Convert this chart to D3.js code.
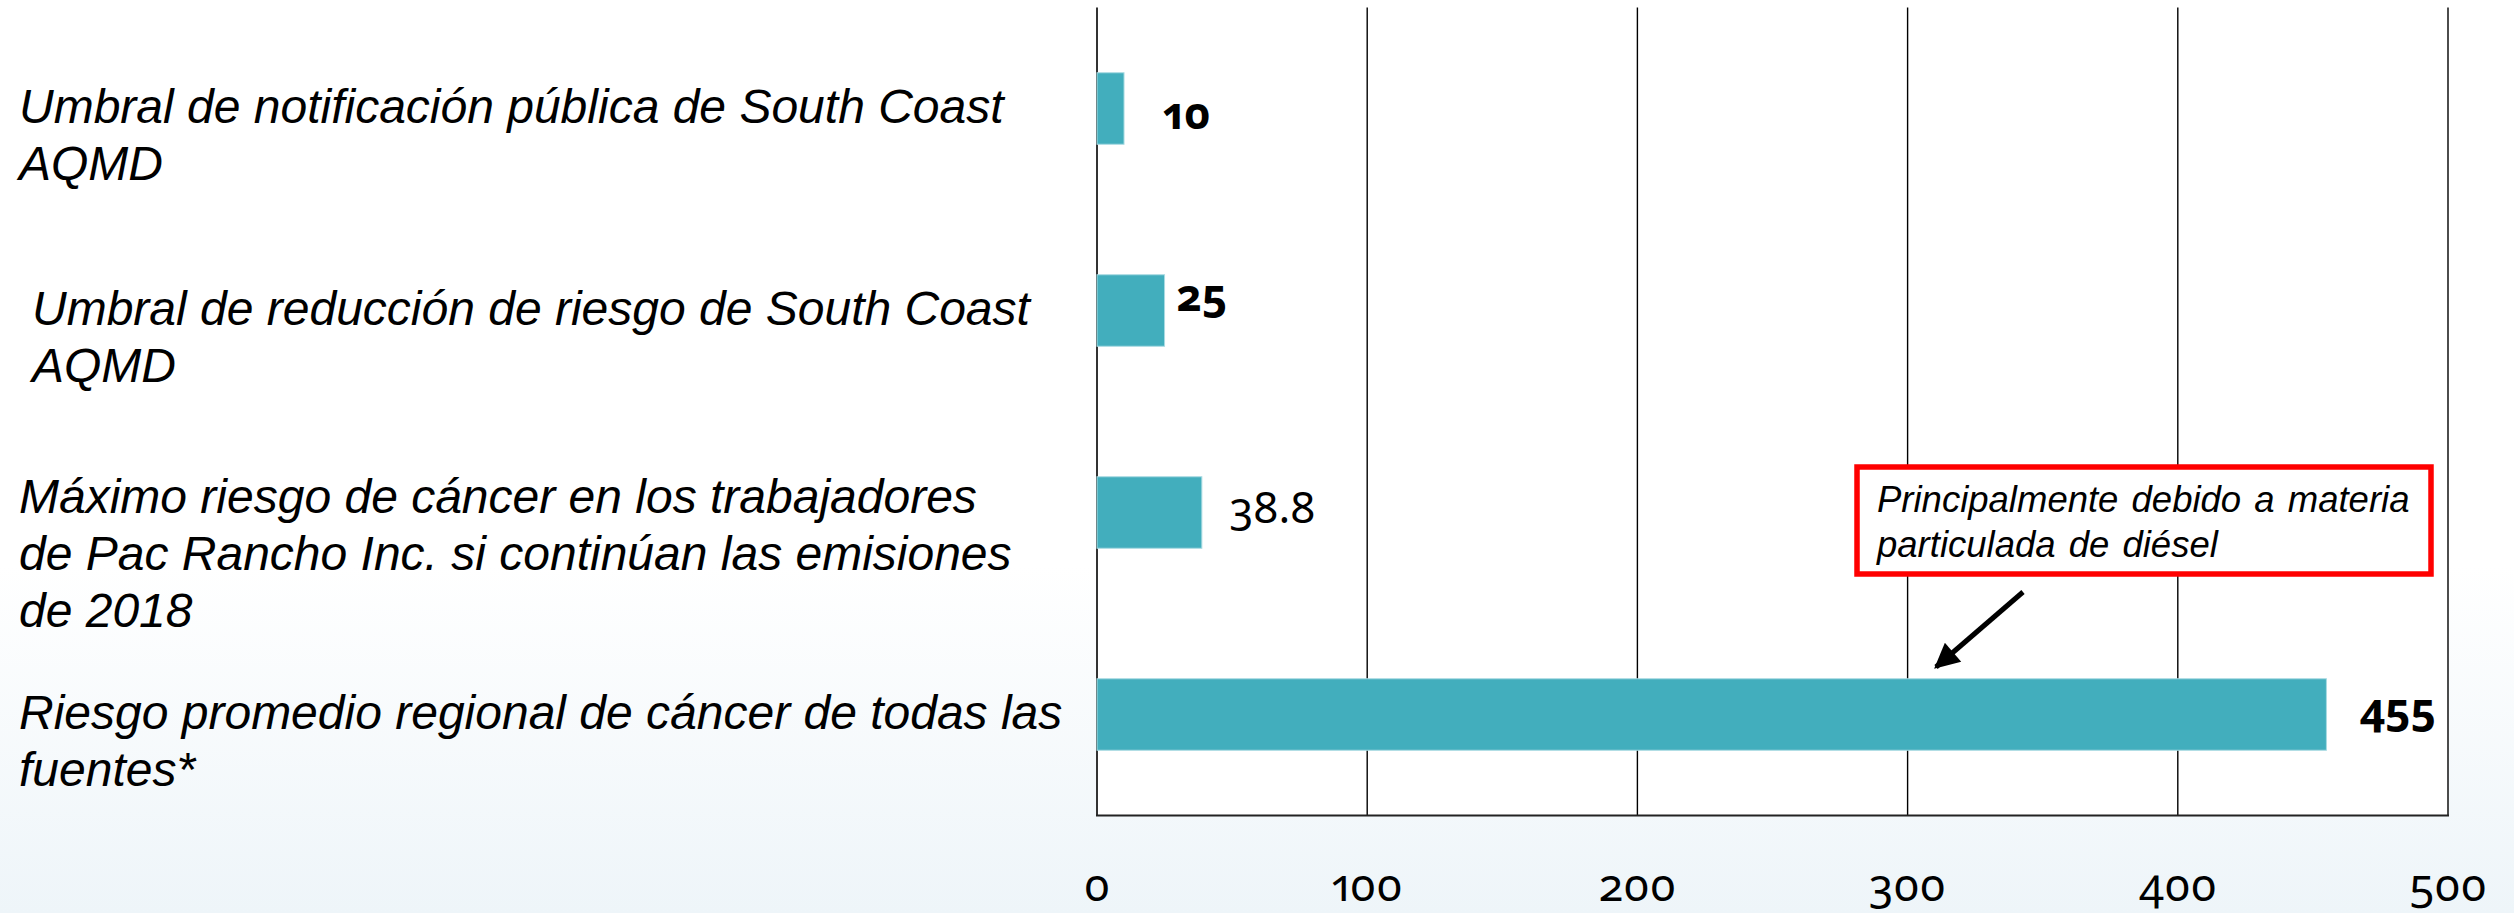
<!DOCTYPE html>
<html>
<head>
<meta charset="utf-8">
<script src="https://cdn.jsdelivr.net/npm/d3@7"></script>
<style>
  body { margin: 0; background: #fff; }
  svg { display: block; }
  .cat { font-family: "Liberation Sans", Arial, sans-serif; font-style: italic; font-size: 48px; fill: #000; }
  .num { font-family: "Noto Sans", "Open Sans", sans-serif; font-variant-numeric: oldstyle-nums; font-feature-settings: "onum" 1, "pnum" 1; fill: #000; }
  .note { font-family: "Liberation Sans", Arial, sans-serif; font-style: italic; font-size: 36.5px; word-spacing: 3px; fill: #000; }
</style>
</head>
<body>
<svg id="chart"></svg>
<script>
var width = 2514, height = 913;

// category labels, already broken into lines like in the slide
var categories = [
  ["Umbral de notificación pública de South Coast", "AQMD"],
  ["Umbral de reducción de riesgo de South Coast", "AQMD"],
  ["Máximo riesgo de cáncer en los trabajadores", "de Pac Rancho Inc. si continúan las emisiones", "de 2018"],
  ["Riesgo promedio regional de cáncer de todas las", "fuentes*"]
];
var values = [10, 25, 38.8, 455];
var valueLabels = ["10", "25", "38.8", "455"];
var xTicks = [0, 100, 200, 300, 400, 500];
var noteLines = ["Principalmente debido a materia", "particulada de diésel"];

// the slide's labels were placed by hand, so each one gets its own nudge
var boldLabel = [true, true, false, true];
var labelDx = [39, 12, 28, 33];
var labelDy = [20, 0, 10, 10];

var svg = d3.select("#chart")
  .attr("width", width)
  .attr("height", height);

// slide background: white fading to a pale blue at the bottom
var defs = svg.append("defs");
var grad = defs.append("linearGradient")
  .attr("id", "bg").attr("x1", 0).attr("y1", 0).attr("x2", 0).attr("y2", 1);
grad.append("stop").attr("offset", "0%").attr("stop-color", "#ffffff");
grad.append("stop").attr("offset", "62%").attr("stop-color", "#ffffff");
grad.append("stop").attr("offset", "100%").attr("stop-color", "#eef5f9");

defs.append("marker")
  .attr("id", "arrow")
  .attr("viewBox", "0 0 10 10")
  .attr("refX", 9).attr("refY", 5)
  .attr("markerWidth", 5.5).attr("markerHeight", 5)
  .attr("orient", "auto")
  .attr("markerUnits", "strokeWidth")
  .append("path")
  .attr("d", "M0,0 L10,5 L0,10 z")
  .attr("fill", "#000");

svg.append("rect")
  .attr("width", width).attr("height", height)
  .attr("fill", "url(#bg)");

var x = d3.scaleLinear().domain([0, 500]).range([1097, 2448]);
var y = d3.scaleBand()
  .domain(d3.range(values.length))
  .range([7.5, 815.5])
  .paddingInner(0.646)
  .paddingOuter(0.323);

// plot area
svg.append("rect")
  .attr("x", x(0)).attr("y", y.range()[0])
  .attr("width", x(500) - x(0)).attr("height", y.range()[1] - y.range()[0])
  .attr("fill", "#fff");

// vertical gridlines
svg.append("g").selectAll("line")
  .data(xTicks)
  .enter().append("line")
  .attr("x1", function(d) { return x(d); })
  .attr("x2", function(d) { return x(d); })
  .attr("y1", y.range()[0])
  .attr("y2", y.range()[1])
  .attr("stroke", function(d) { return d == 0 ? "#333" : "#000"; })
  .attr("stroke-width", function(d) { return d == 0 ? 2 : 1.4; });

// bottom axis line
svg.append("line")
  .attr("x1", x(0) - 1).attr("x2", x(500) + 1)
  .attr("y1", y.range()[1]).attr("y2", y.range()[1])
  .attr("stroke", "#222").attr("stroke-width", 2.2);

// tick labels
svg.append("g").selectAll("text")
  .data(xTicks)
  .enter().append("text")
  .attr("class", "num")
  .attr("x", function(d) { return x(d); })
  .attr("y", 901)
  .attr("text-anchor", "middle")
  .style("font-size", "45px")
  .text(function(d) { return d; });

// bars
svg.append("g").selectAll("rect")
  .data(values)
  .enter().append("rect")
  .attr("x", x(0))
  .attr("y", function(d, i) { return y(i); })
  .attr("width", function(d) { return x(d) - x(0); })
  .attr("height", y.bandwidth())
  .attr("fill", "#42aebd")
  .attr("stroke", "#a9dbe2")
  .attr("stroke-width", 1);

// value labels
svg.append("g").selectAll("text")
  .data(values)
  .enter().append("text")
  .attr("class", "num")
  .attr("x", function(d, i) { return x(d) + labelDx[i]; })
  .attr("y", function(d, i) { return y(i) + y.bandwidth() / 2 + labelDy[i]; })
  .style("font-size", "44px")
  .style("font-weight", function(d, i) { return boldLabel[i] ? 700 : 400; })
  .text(function(d, i) { return valueLabels[i]; });

// category labels on the left
var cat = svg.append("g").selectAll("text")
  .data(categories)
  .enter().append("text")
  .attr("class", "cat")
  .attr("x", function(d, i) { return i == 1 ? 32 : 19; })
  .attr("y", function(d, i) {
    return y(i) + y.bandwidth() / 2 + 14 - (d.length - 2) * 14;
  });
cat.selectAll("tspan")
  .data(function(d) { return d; })
  .enter().append("tspan")
  .attr("x", function() { return d3.select(this.parentNode).attr("x"); })
  .attr("dy", function(d, j) { return j == 0 ? 0 : 57; })
  .text(function(d) { return d; });

// call-out box
var box = { x: 1857, y: 467, w: 574, h: 107 };
svg.append("rect")
  .attr("x", box.x).attr("y", box.y)
  .attr("width", box.w).attr("height", box.h)
  .attr("fill", "#fff")
  .attr("stroke", "#ff0000")
  .attr("stroke-width", 5.5);

svg.append("g").selectAll("text")
  .data(noteLines)
  .enter().append("text")
  .attr("class", "note")
  .attr("x", box.x + 20)
  .attr("y", function(d, i) { return 512 + i * 45; })
  .text(function(d) { return d; });

// arrow pointing to the regional bar
svg.append("line")
  .attr("x1", 2023).attr("y1", 592)
  .attr("x2", 1936).attr("y2", 667)
  .attr("stroke", "#000")
  .attr("stroke-width", 5)
  .attr("marker-end", "url(#arrow)");
</script>
</body>
</html>
